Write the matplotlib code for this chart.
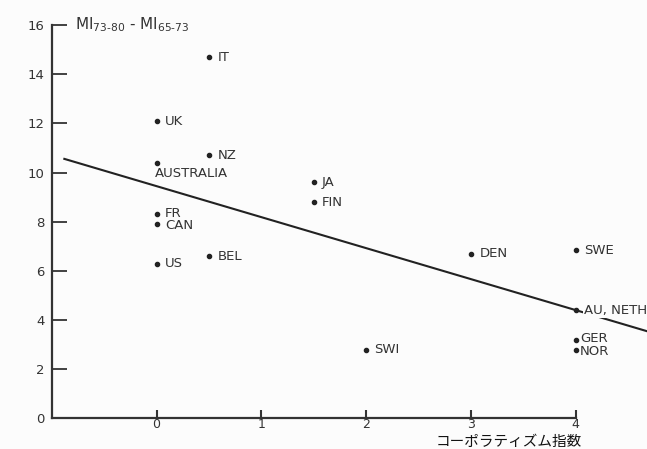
import matplotlib.pyplot as plt
import numpy as np

plt.rcParams['font.family'] = ['DejaVu Sans', 'Noto Sans CJK JP']

# corporatism index vs change in misery index
countries = ["IT", "UK", "NZ", "AUSTRALIA", "JA", "FIN", "FR", "CAN", "US", "BEL",
             "DEN", "SWE", "AU, NETH", "GER", "NOR", "SWI"]
corp_index = [0.5, 0, 0.5, 0, 1.5, 1.5, 0, 0, 0, 0.5, 3, 4, 4, 4, 4, 2]
misery_change = [14.7, 12.1, 10.7, 10.4, 9.6, 8.8, 8.3, 7.9, 6.3, 6.6, 6.7, 6.85, 4.4, 3.2, 2.8, 2.8]

# fitted regression line (end points)
fit_x = [-0.88, 4.68]
fit_y = [10.56, 3.55]

x_ticks = [0, 1, 2, 3, 4]
y_ticks = [0, 2, 4, 6, 8, 10, 12, 14, 16]

fig = plt.figure(figsize=(6.47, 4.49), dpi=100)
fig.patch.set_facecolor("#fcfcfc")
ax = fig.add_axes([0.080, 0.068, 0.920, 0.876])
ax.set_facecolor("#fcfcfc")
ax.set_xlim(-1, 4.68)
ax.set_ylim(0, 16)

ax.plot(fit_x, fit_y, color="#222222", lw=1.5, zorder=2)
ax.scatter(corp_index, misery_change, s=9, color="#222222", zorder=3)

# label placement (offsets in points)
offsets = {"AUSTRALIA": (-1, -8), "GER": (3, 1), "NOR": (3, -1), "FR": (6, 1), "CAN": (6, -1)}
for name, x, y in zip(countries, corp_index, misery_change):
    dx, dy = offsets.get(name, (6, 0))
    kw = {}
    if name == "AU, NETH":
        kw = dict(bbox=dict(facecolor="#fcfcfc", edgecolor="none", pad=1))
    ax.annotate(name, (x, y), xytext=(dx, dy), textcoords="offset points",
                ha="left", va="center", fontsize=9.5, color="#333333", zorder=4, **kw)

for s in ["top", "right"]:
    ax.spines[s].set_visible(False)
ax.spines["left"].set_bounds(0, 16)
ax.spines["bottom"].set_bounds(-1, 4)
for s in ["left", "bottom"]:
    ax.spines[s].set_linewidth(1.6)
    ax.spines[s].set_color("#333333")

ax.set_xticks(x_ticks)
ax.set_yticks(y_ticks)
ax.tick_params(axis="y", direction="in", length=11, width=1.3, pad=5,
               labelsize=9.5, colors="#333333")
ax.tick_params(axis="x", direction="in", length=6, width=1.5, pad=0,
               labelsize=9, colors="#333333")

ax.annotate(r"MI$_{73\text{-}80}$ - MI$_{65\text{-}73}$", (0, 16), xycoords=("axes fraction", "data"),
            xytext=(17, 0), textcoords="offset points", ha="left", va="center",
            fontsize=11, color="#333333")

fig.text(0.787, 0.0, "コーポラティズム指数", ha="center", va="bottom", fontsize=10.5, color="#111111")

fig.savefig("out.png", dpi=100, facecolor=fig.get_facecolor())
